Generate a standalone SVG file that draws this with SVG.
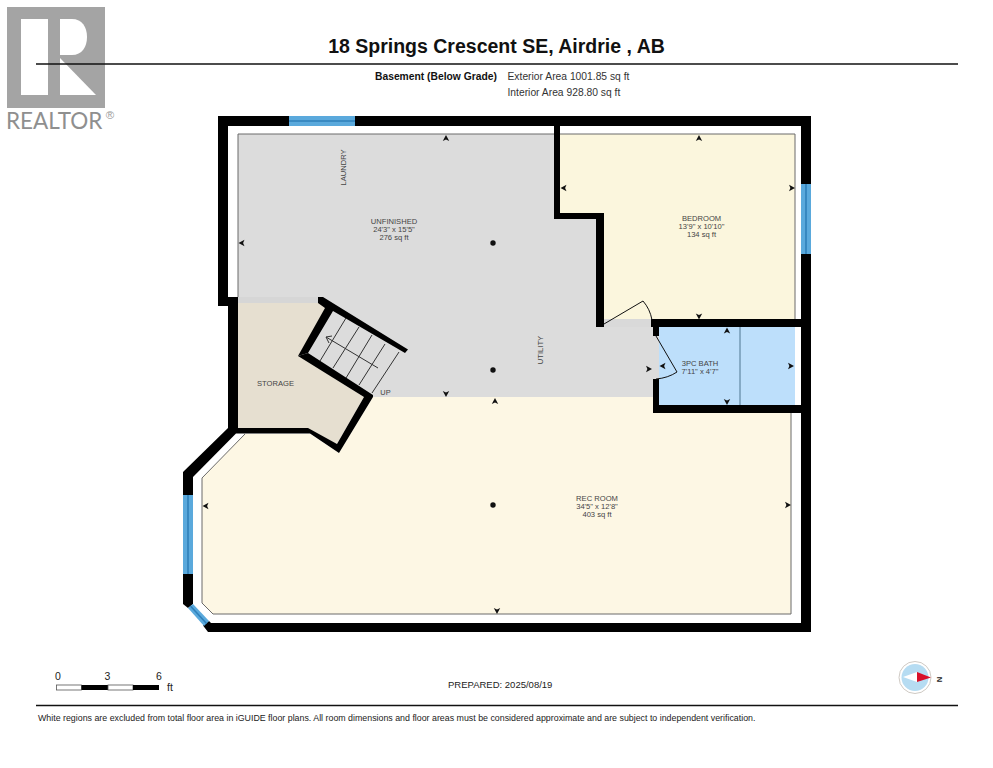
<svg xmlns="http://www.w3.org/2000/svg" xmlns:xlink="http://www.w3.org/1999/xlink" width="993" height="768" viewBox="0 0 993 768">
<style>
text{font-family:"Liberation Sans",Arial,sans-serif}
.r{font-size:7.6px;fill:#444;text-anchor:middle}
.w{fill:#000}
.g{fill:#5aa9dc}
.gl{stroke:#2f80ba;stroke-width:1.6;fill:none}
.o{stroke:#6a6a6a;stroke-width:1;fill:none}
.t{stroke:#333;stroke-width:1;fill:none}
.h{fill:#111;font-size:10.3px}
</style>
<defs>
<path id="a" d="M0,0L3.2,6L0,4.6L-3.2,6Z" fill="#111"/>
</defs>
<rect width="993" height="768" fill="#fff"/>
<g id="logo">
<rect x="7" y="7" width="98" height="101" fill="#a4a4a4"/>
<rect x="21" y="19" width="27" height="76" fill="#fff"/>
<path d="M60,19H72C82,19 87,27 87,37C87,47 82,55 72,55H60Z" fill="#fff"/>
<path d="M60,58L96,95H60Z" fill="#fff"/>
<text x="6" y="129" font-size="22.500" fill="#8f8f8f" style="font-family:Lato,sans-serif;font-weight:400">REALTOR</text>
<text x="110" y="119" font-size="11.500" fill="#9a9a9a" text-anchor="middle">®</text>
</g>
<g id="header">
<text x="496.500" y="53" font-size="19.500" font-weight="700" text-anchor="middle" fill="#111">18 Springs Crescent SE, Airdrie , AB</text>
<line x1="36" y1="64" x2="958" y2="64" stroke="#111" stroke-width="1.500"/>
<text x="375" y="80" font-weight="700" class="h">Basement (Below Grade)</text>
<text x="507.500" y="80" class="h" style="fill:#333">Exterior Area 1001.85 sq ft</text>
<text x="507.500" y="96" class="h" style="fill:#333">Interior Area 928.80 sq ft</text>
</g>
<g id="unfinished">
<path fill="#dcdcdc" d="M238,134H554V219H596V327H659V397H372L299,356L327,307L318,297H238Z"/>
<path class="o" d="M238,297V134H554"/>
<text class="r" transform="translate(345.500,167.500) rotate(-90)" text-anchor="middle">LAUNDRY</text>
<text class="r" x="394" y="223.500">UNFINISHED</text>
<text class="r" x="394" y="231.500">24'3" x 15'5"</text>
<text class="r" x="394" y="239.500">276 sq ft</text>
<text class="r" transform="translate(543,350) rotate(-90)">UTILITY</text>
<text x="385.500" y="394.500" font-size="7.400" fill="#444" text-anchor="middle">UP</text>
</g>
<g id="bedroom">
<path fill="#fbf6dd" d="M560,134H795V320H604V219H560Z"/>
<path class="o" d="M560,134H795V320"/>
<rect x="604" y="319" width="48" height="8" fill="#d9d9d9"/>
<text class="r" x="701.500" y="220.500">BEDROOM</text>
<text class="r" x="701.500" y="228.500">13'9" x 10'10"</text>
<text class="r" x="701.500" y="236.500">134 sq ft</text>
</g>
<g id="bath">
<rect x="659" y="327" width="136" height="78" fill="#bddffb"/>
<line x1="740" y1="327" x2="740" y2="405" stroke="#4f7690" stroke-width="1"/>
<text class="r" x="700" y="365.500">3PC BATH</text>
<text class="r" x="700" y="373.500">7'11" x 4'7"</text>
</g>
<g id="storage">
<path fill="#e6dfd0" d="M237,303H320L329,306L299,356L364,397L337,444L308,430H237Z"/>
<rect x="238" y="297" width="80" height="6" fill="#d6d6d6"/>
<text class="r" x="275.500" y="386">STORAGE</text>
</g>
<g id="rec-room">
<path fill="#fdf7e4" d="M202,478L245,434H310L339,453L373,397H653V413H791V614H213L202,603Z"/>
<path class="o" d="M791,413V614H213L202,603V478L245,434"/>
<text class="r" x="597" y="500.500">REC ROOM</text>
<text class="r" x="597" y="508.500">34'5" x 12'8"</text>
<text class="r" x="597" y="516.500">403 sq ft</text>
</g>
<g id="stairs">
<path class="t" d="M320,361L346,318M333,368L359,327M346,378L372,335M359,385L385,344M372,393L399,352"/>
<path class="t" d="M378,368L326,337M332,336L326,337L329,343"/>
</g>
<g id="walls">
<path class="w" d="M218,116H811V632H208L203,625.500L209,621L211,623H801V126H228V297H238V428H228V306H218Z"/>
<path class="w" d="M554,126H560V213H604V327H596V219H554Z"/>
<path class="w" d="M651,319H801V327H659V336H653V327H651Z"/>
<path class="w" d="M653,379H659V405H801V413H653Z"/>
<path class="w" d="M228,428H308L337,444L364,397L298,356L308,353L373,395L373,397L339,453L310,433.500H236L193,477V495H183V472Z"/>
<path class="w" d="M318,297H323L408,349.500L405,353L333,311L308,353L298,356L325,308L318,303Z"/>
<path class="w" d="M183,574H193V604L188,608L183,604Z"/>
</g>
<g id="windows">
<g><rect x="289" y="116" width="66" height="10" class="g"/><path class="gl" d="M289,121H355"/></g>
<g><rect x="801" y="184" width="10" height="70" class="g"/><path class="gl" d="M806,184V254"/></g>
<g><rect x="183" y="495" width="10" height="79" class="g"/><path class="gl" d="M188,495V574"/></g>
<g><path class="g" d="M188,608L193,604L209,621L204,626Z"/><path class="gl" d="M190.500,606L206.500,623.500"/></g>
</g>
<g id="doors">
<path d="M604,324L643,301Q650,309 652,320" stroke="#111" fill="none" stroke-width="1"/>
<path d="M656,336L677,372Q668,378 656,379" stroke="#111" fill="none" stroke-width="1"/>
</g>
<g id="markers">
<use xlink:href="#a" href="#a" transform="translate(446,135)"/>
<use xlink:href="#a" href="#a" transform="translate(238.500,243) rotate(-90)"/>
<use xlink:href="#a" href="#a" transform="translate(446,397) rotate(180)"/>
<use xlink:href="#a" href="#a" transform="translate(652,369) rotate(90)"/>
<use xlink:href="#a" href="#a" transform="translate(699,135)"/>
<use xlink:href="#a" href="#a" transform="translate(560.500,188) rotate(-90)"/>
<use xlink:href="#a" href="#a" transform="translate(795,188) rotate(90)"/>
<use xlink:href="#a" href="#a" transform="translate(699,319.500) rotate(180)"/>
<use xlink:href="#a" href="#a" transform="translate(727,327.500)"/>
<use xlink:href="#a" href="#a" transform="translate(727,405) rotate(180)"/>
<use xlink:href="#a" href="#a" transform="translate(659.500,366) rotate(-90)"/>
<use xlink:href="#a" href="#a" transform="translate(794,366) rotate(90)"/>
<use xlink:href="#a" href="#a" transform="translate(495,398)"/>
<use xlink:href="#a" href="#a" transform="translate(497,614) rotate(180)"/>
<use xlink:href="#a" href="#a" transform="translate(202.500,506) rotate(-90)"/>
<use xlink:href="#a" href="#a" transform="translate(791,505) rotate(90)"/>
<circle cx="493" cy="243" r="2.700" fill="#111"/>
<circle cx="493" cy="370" r="2.700" fill="#111"/>
<circle cx="493" cy="505" r="2.700" fill="#111"/>
</g>
<g id="scale">
<rect x="56.500" y="685" width="25" height="5" fill="#fff" stroke="#555" stroke-width=".8"/>
<rect x="81.500" y="685" width="26.500" height="5" fill="#000"/>
<rect x="108" y="685" width="25" height="5" fill="#fff" stroke="#555" stroke-width=".8"/>
<rect x="133" y="685" width="26" height="5" fill="#000"/>
<text x="58" y="680" font-size="10.500" fill="#222" text-anchor="middle">0</text>
<text x="107.500" y="680" font-size="10.500" fill="#222" text-anchor="middle">3</text>
<text x="159" y="680" font-size="10.500" fill="#222" text-anchor="middle">6</text>
<text x="167" y="691" font-size="10.500" fill="#222">ft</text>
</g>
<g id="footer">
<text x="448" y="688" font-size="9.500" fill="#222">PREPARED: 2025/08/19</text>
<line x1="36" y1="705.500" x2="958" y2="705.500" stroke="#111" stroke-width="1.400"/>
<text x="38" y="721" font-size="8.830" fill="#222">White regions are excluded from total floor area in iGUIDE floor plans. All room dimensions and floor areas must be considered approximate and are subject to independent verification.</text>
</g>
<g id="compass">
<circle cx="915" cy="677.500" r="16" fill="#fff" stroke="#cfcac4" stroke-width="1"/>
<circle cx="915" cy="677.500" r="13.500" fill="#b6dcf2"/>
<path d="M903,677L917,672V682Z" fill="#fff"/>
<path d="M917,672L931,677.500L917,682Z" fill="#d8102a"/>
<text transform="translate(937,679.500) rotate(90)" font-size="7.500" fill="#222" text-anchor="middle" font-weight="700">N</text>
</g>
</svg>
